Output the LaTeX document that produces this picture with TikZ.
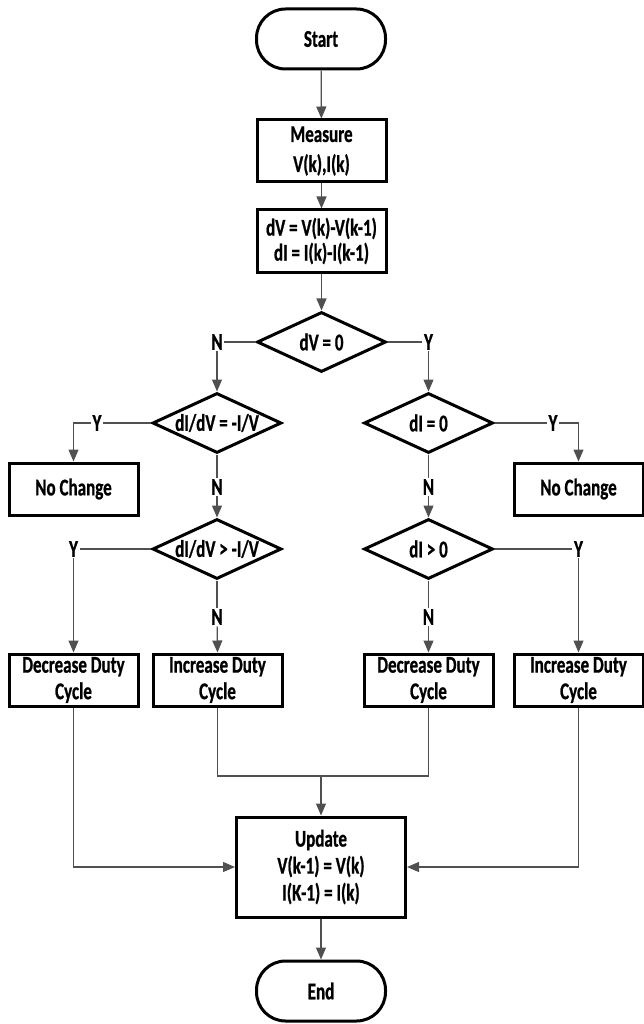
\documentclass[tikz,border=0pt]{standalone}
\usepackage{fontspec}
\setmainfont{Carlito}[FakeStretch=0.71, BoldFeatures={FakeBold=0.8}]
\usetikzlibrary{shapes.geometric,arrows.meta}
\definecolor{conn}{RGB}{80,80,80}
\newcommand{\fs}[1]{\fontsize{24}{#1}\selectfont\bfseries}
\tikzset{
  base/.style={draw=black, line width=3pt, font=\fs{27}, align=center, inner sep=0pt},
  term/.style={base, rectangle, rounded corners=29pt, minimum width=129pt, minimum height=60pt},
  proc/.style={base, rectangle, minimum width=129pt, minimum height=62pt},
  small/.style={base, rectangle, minimum width=129pt, minimum height=52pt, font=\fs{26.5}},
  dec/.style={base, diamond, aspect=2.15, minimum width=129pt, minimum height=60pt},
  lab/.style={font=\fs{26}, inner sep=1.5pt},
  line/.style={draw=conn, line width=1.2pt},
  arr/.style={line, -{Triangle[length=12pt,width=10pt]}},
}
\begin{document}
\begin{tikzpicture}[x=1pt,y=-1pt]
\useasboundingbox (0,0) rectangle (644,1024);
% nodes
\node[term] (start) at (321,39) {Start};
\node[proc, font=\fs{30}] (meas) at (321.5,151) {Measure\\V(k),I(k)};
\node[proc, font=\fs{25}] (dvb) at (321.5,241) {dV = V(k)-V(k-1)\\dI = I(k)-I(k-1)};
\node[dec] (d1) at (321.5,342) {dV = 0};
\node[dec] (d2) at (217,423) {dI/dV = -I/V};
\node[dec] (d4) at (428.5,423) {dI = 0};
\node[dec] (d3) at (217,549) {dI/dV > -I/V};
\node[dec] (d5) at (428.5,549) {dI > 0};
\node[small] (nc1) at (73.5,489) {No Change};
\node[small] (nc2) at (578.5,489) {No Change};
\node[small] (dec1) at (73.5,680) {Decrease Duty\\Cycle};
\node[small] (inc1) at (217.5,680) {Increase Duty\\Cycle};
\node[small] (dec2) at (428.5,680) {Decrease Duty\\Cycle};
\node[small] (inc2) at (578.5,680) {Increase Duty\\Cycle};
\node[base, rectangle, minimum width=169pt, minimum height=100pt] (upd) at (321,867) {Update\\V(k-1) = V(k)\\I(K-1) = I(k)};
\node[term] (endn) at (321,991) {End};
% labels
\node[lab] (n1) at (217,342) {N};
\node[lab] (y1) at (428.5,342) {Y};
\node[lab] (y2) at (97,423) {Y};
\node[lab] (y3) at (553,423) {Y};
\node[lab] (n2) at (217,487) {N};
\node[lab] (n3) at (428.5,487) {N};
\node[lab] (y4) at (73.5,549) {Y};
\node[lab] (y5) at (578.5,549) {Y};
\node[lab] (n4) at (217,617) {N};
\node[lab] (n5) at (428.5,617) {N};
\coordinate (j) at (321,776);
% connectors
\draw[arr] (start) -- (meas);
\draw[arr] (meas) -- (dvb);
\draw[arr] (dvb) -- (d1);
\draw[line] (d1.west) -- (n1);
\draw[arr] (n1) -- (d2.north);
\draw[line] (d1.east) -- (y1);
\draw[arr] (y1) -- (d4.north);
\draw[line] (d2.west) -- (y2);
\draw[arr] (y2) -| (nc1.north);
\draw[line] (d4.east) -- (y3);
\draw[arr] (y3) -| (nc2.north);
\draw[line] (d2.south) -- (n2);
\draw[arr] (n2) -- (d3.north);
\draw[line] (d4.south) -- (n3);
\draw[arr] (n3) -- (d5.north);
\draw[line] (d3.west) -- (y4);
\draw[arr] (y4) -- (dec1.north);
\draw[line] (d5.east) -- (y5);
\draw[arr] (y5) -- (inc2.north);
\draw[line] (d3.south) -- (n4);
\draw[arr] (n4) -- (inc1.north);
\draw[line] (d5.south) -- (n5);
\draw[arr] (n5) -- (dec2.north);
\draw[arr] (dec1.south) |- (upd.west);
\draw[arr] (inc2.south) |- (upd.east);
\draw[line] (inc1.south) |- (j);
\draw[line] (dec2.south) |- (j);
\draw[arr] (j) -- (upd.north);
\draw[arr] (upd) -- (endn);
\end{tikzpicture}
\end{document}
